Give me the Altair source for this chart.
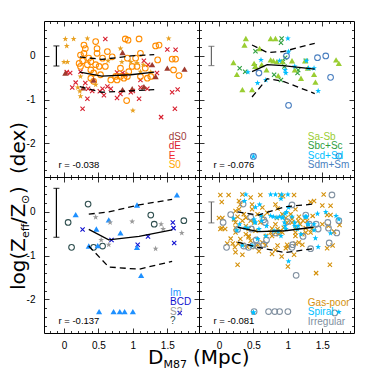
import altair as alt
import pandas as pd

XD = [-0.29, 1.96]
YD = [-2.77, 0.80]
W, H = 155, 156

STAR = ("M0,-1L0.235,-0.324L0.951,-0.309L0.38,0.124L0.588,0.809L0,0.4L-0.588,0.809"
        "L-0.38,0.124L-0.951,-0.309L-0.235,-0.324Z")
XMARK = "M-0.75,-0.75L0.75,0.75M-0.75,0.75L0.75,-0.75"
TRI = "triangle-up"

# ---------------- top-left: gas-poor morphologies ----------------
dS0_x = [0.02, 0.43, 0.85, 0.85, 0.99, 1.16, 1.33, 1.50, 1.75, 1.28, 0.28]
dS0_y = [-0.39, -0.55, 0.08, -0.77, -0.75, -0.70, -0.47, -0.28, -0.30, -0.20, -0.73]
dE_x = [0.60, 1.50, 1.62, 0.04, 0.09, 0.17, 0.12, 0.31, 0.34, 0.27, 0.41, 0.52, 0.58, 0.68,
        0.77, 0.82, 0.97, 1.00, 1.09, 1.11, 1.21, 1.11, 0.89, 0.77, 0.85, 1.16, 1.22, 1.35,
        1.57, 1.65, 1.61, 1.41, 0.63, 0.24, 0.35, 0.56]
dE_y = [0.39, 0.15, 0.14, -0.37, -0.39, -0.61, -0.72, -0.62, -0.98, -1.21, -0.80, -0.81, -0.90, -0.75,
        -0.96, -0.87, -0.83, -0.80, -0.98, -0.72, -0.75, -0.55, -0.43, -0.38, -0.39, -0.11, -0.20, -0.39,
        -0.83, -0.77, -1.21, -1.40, -0.70, -0.36, -0.75, -0.75]
E_x = [0.02, 0.14, 0.34, 0.04, 0.00, 0.05, 0.82, 0.84, 0.97, 1.06, 0.64, 1.52, 1.15, 1.26,
       0.24, 0.20, 0.23, 0.24, 0.46, 1.00, 1.11]
E_y = [0.39, 0.39, 0.40, 0.23, -0.14, -0.14, 0.17, -0.14, -0.14, -0.16, -0.11, 0.40, -0.20, -0.37,
       -0.47, -0.72, -0.81, -0.92, -0.66, -1.25, -0.36]
S0_x = [0.29, 0.31, 0.46, 0.48, 0.29, 0.36, 0.27, 0.22, 0.24, 0.34, 0.39, 0.51, 0.60, 0.39,
        0.43, 0.39, 0.53, 0.68, 0.77, 0.82, 0.92, 0.94, 0.99, 0.92, 1.04, 0.89, 0.93, 1.09,
        1.11, 1.06, 1.11, 1.18, 1.21, 1.26, 1.33, 1.38, 1.36, 1.57, 1.62, 1.59, 1.67, 0.91,
        0.43, 0.63, 0.70, 0.82, 0.87, 0.75, 0.46, 0.56, 0.48, 0.24]
S0_y = [0.25, 0.17, 0.33, 0.06, 0.06, -0.05, -0.11, -0.17, -0.24, -0.20, -0.13, -0.24, -0.24, -0.32,
        -0.39, -0.51, -0.43, -0.55, -0.55, -0.47, -0.47, -0.36, -0.24, -0.05, -0.05, 0.39, 0.36, 0.39,
        0.06, -0.24, -0.47, -0.28, -0.51, -0.47, 0.23, 0.25, -0.09, -0.07, -0.07, -0.32, -0.45, -1.02,
        -0.58, 0.10, -0.02, -0.28, -0.51, -0.47, -0.20, -0.05, 0.17, 0.02]

# ---------------- top-right: spirals ----------------
SaSb_x = [0.39, 0.37, 0.75, 0.82, 0.21, 0.26, 0.34, 0.48, 0.51, 0.53, 0.62, 0.69, 0.75, 0.79,
          0.84, 0.86, 1.06, 1.10, 1.19, 1.25, 1.29, 1.38, 1.40, 1.70, 1.74, 0.59, 0.92]
SaSb_y = [0.40, 0.25, 0.40, 0.40, -0.15, -0.42, -0.77, -0.77, -0.17, -0.24, -0.20, -0.32, -0.09, -0.11,
          -0.13, -0.45, -0.11, -0.32, -0.51, -0.11, -0.28, -0.42, -0.60, -0.09, -0.17, 0.17, -0.13]
SbcSc_x = [0.91, 0.90, 0.53, 0.30, 0.38, 0.80, 0.90, 0.93, 0.95, 0.96, 1.15, 1.14, 1.26, 0.52]
SbcSc_y = [0.40, 0.30, 0.11, -0.28, -0.36, -0.43, -0.55, -0.13, -0.24, -0.04, -0.32, -0.39, -0.11, -0.24]
ScdSd_x = [1.00, 0.61, 0.68, 0.56, 0.42, 0.88, 0.96, 0.97, 1.01, 1.10, 1.30, 1.38, 1.44, 1.27, 0.50]
ScdSd_y = [0.40, -0.09, -0.55, -0.62, -0.37, -0.11, -0.32, -0.39, 0.10, -0.24, -0.28, -0.28, -0.80, -0.11, -2.30]
SdmSm_x = [0.58, 0.98, 1.43, 1.55, 1.62, 1.01, 0.50, 1.74]
SdmSm_y = [-0.39, 0.00, -0.04, 0.00, -0.49, -1.13, -2.30, -2.29]

# ---------------- bottom-left: irregulars ----------------
Im_x = [0.17, 0.47, 0.65, 0.82, 1.06, 1.12, 1.64, 1.06, 0.51, 0.72, 0.81, 0.88, 1.00, 0.36, 0.49]
Im_y = [-0.06, -0.39, -0.18, -0.48, 0.16, -1.45, 0.39, -0.81, -2.28, -2.28, -2.28, -2.28, -2.28, -0.78, -0.77]
BCD_x = [0.27, 0.69, 1.07, 1.22, 1.58, 1.59, 1.60, 1.68]
BCD_y = [-0.40, -0.64, -0.75, -0.56, -0.24, -0.37, -0.71, -2.31]
Sq_x = [0.46, 0.54, 0.65, 0.67, 0.99, 1.33, 1.41, 1.44, 1.71]
Sq_y = [-0.12, -0.64, -0.75, -0.24, -0.22, -0.84, -0.28, -0.39, -0.48]
Q_x = [0.35, 0.06, 0.11, 0.43, 0.56, 1.26, 1.31, 1.74]
Q_y = [0.18, -0.24, -0.81, -0.81, -0.78, -0.07, -0.28, -0.20]

# ---------------- running medians and percentiles ----------------
TL_bx = [0.23, 0.55, 0.97, 1.31]
TL_med = [-0.37, -0.46, -0.43, -0.37]
TL_hi = [-0.02, -0.08, 0.00, 0.03]
TL_lo = [-0.70, -0.83, -0.80, -0.77]
TR_bx = [0.48, 0.70, 0.93, 1.39]
TR_med = [-0.36, -0.20, -0.22, -0.30]
TR_hi = [0.25, 0.08, 0.10, 0.29]
TR_lo = [-0.94, -0.52, -0.58, -0.86]
BL_bx = [0.36, 0.65, 1.09, 1.57]
BL_med = [-0.40, -0.64, -0.56, -0.41]
BL_hi = [-0.05, 0.00, 0.16, 0.29]
BL_lo = [-0.78, -1.26, -1.31, -1.13]
BR_bx = [0.27, 0.57, 0.96, 1.37]
BR_med = [-0.35, -0.45, -0.43, -0.35]
BR_hi = [0.00, -0.07, 0.12, 0.18]
BR_lo = [-0.69, -0.81, -0.93, -0.84]

# typical error bars (x, low, high)
ERR = {"TL": (-0.11, -0.23, 0.23), "TR": (-0.11, -0.22, 0.22),
       "BL": (-0.11, -0.58, 0.54), "BR": (-0.11, -0.25, 0.23)}
R_TEXT = {"TL": "r = -0.038", "TR": "r = -0.076", "BL": "r = -0.137", "BR": "r = -0.081"}

XT = [round(-0.2 + 0.1 * i, 2) for i in range(22)]
YT = [round(-2.6 + 0.2 * i, 2) for i in range(17)]
XMAJ = "abs(datum.value*2 - round(datum.value*2)) < 0.01"
YMAJ = "abs(datum.value - round(datum.value)) < 0.01"

xs = alt.Scale(domain=XD, nice=False, zero=False)
ys = alt.Scale(domain=YD, nice=False, zero=False)


def tick_axis(orient, values, test, off):
    return alt.Axis(orient=orient, offset=off, values=values, labels=False, domain=False,
                    grid=False, tickColor="black", tickWidth=0.8, title=None,
                    tickSize={"condition": {"test": test, "value": 5}, "value": 2.5})


def label_axis(orient, values, pad):
    return alt.Axis(orient=orient, values=values, ticks=False, domain=False, grid=False,
                    labelExpr="'' + datum.value", labelFont="Liberation Sans", labelFontSize=10,
                    labelColor="black", labelPadding=pad, labelFlush=False, labelOverlap=False,
                    title=None)


def make_df(groups):
    rows = []
    for cat, (gx, gy) in groups.items():
        for a, b in zip(gx, gy):
            rows.append({"x": a, "y": b, "cat": cat})
    return pd.DataFrame(rows)


def panel(key, groups, colors, shapes, filled, text_colors, bx, med, hi, lo, errcolor,
          left, bottom, legend_x, extra=None):
    cats = list(groups.keys())
    df = make_df(groups)
    cs = alt.Scale(domain=cats, range=colors)
    ss = alt.Scale(domain=cats, range=shapes)
    fcats = [c for c in cats if c in filled]
    ocats = [c for c in cats if c not in filled]

    open_pts = alt.Chart(df[df.cat.isin(ocats)]).mark_point(
        filled=False, opacity=1, size=32, strokeWidth=1.1).encode(
        x=alt.X("x:Q", scale=xs, axis=tick_axis("top", XT, XMAJ, -H)),
        y=alt.Y("y:Q", scale=ys, axis=tick_axis("right", YT, YMAJ, -W)),
        color=alt.Color("cat:N", scale=cs, legend=None),
        shape=alt.Shape("cat:N", scale=ss, legend=None))
    fill_pts = alt.Chart(df[df.cat.isin(fcats)]).mark_point(
        filled=True, opacity=1, size=38).encode(
        x=alt.X("x:Q", scale=xs, axis=tick_axis("bottom", XT, XMAJ, -H)),
        y=alt.Y("y:Q", scale=ys, axis=tick_axis("left", YT, YMAJ, -W)),
        color=alt.Color("cat:N", scale=cs, legend=None),
        shape=alt.Shape("cat:N", scale=ss, legend=None))

    ldf = pd.DataFrame({"x": bx * 3, "y": med + hi + lo,
                        "kind": ["med"] * len(bx) + ["hi"] * len(bx) + ["lo"] * len(bx)})
    med_line = alt.Chart(ldf[ldf.kind == "med"]).mark_line(color="black", strokeWidth=1.3).encode(
        x=alt.X("x:Q", scale=xs,
                axis=label_axis("bottom", [0, 0.5, 1, 1.5], 7) if bottom else None),
        y=alt.Y("y:Q", scale=ys,
                axis=label_axis("left", [-2, -1, 0], 9) if left else None))
    dash_line = alt.Chart(ldf[ldf.kind != "med"]).mark_line(
        color="black", strokeWidth=1.3, strokeDash=[6, 4]).encode(
        x=alt.X("x:Q", scale=xs, axis=None), y=alt.Y("y:Q", scale=ys, axis=None),
        detail="kind:N")

    ex, elo, ehi = ERR[key]
    edf = pd.DataFrame({"x": [ex], "lo": [elo], "hi": [ehi]})
    erule = alt.Chart(edf).mark_rule(color=errcolor, strokeWidth=1.2).encode(
        x=alt.X("x:Q", scale=xs, axis=None), y=alt.Y("lo:Q", scale=ys, axis=None), y2="hi:Q")
    cdf = pd.DataFrame({"x": [ex, ex], "y": [elo, ehi]})
    ecap = alt.Chart(cdf).mark_tick(color=errcolor, orient="horizontal", size=6, thickness=1.2).encode(
        x=alt.X("x:Q", scale=xs, axis=None), y=alt.Y("y:Q", scale=ys, axis=None))

    leg_y = [-1.86, -2.07, -2.28, -2.49] if len(cats) == 4 else [-2.09, -2.30, -2.51]
    tdf = pd.DataFrame({"x": [legend_x] * len(cats), "y": leg_y, "label": cats, "c": text_colors})
    legend = alt.Chart(tdf).mark_text(align="left", baseline="middle", fontSize=10,
                                      font="Liberation Sans").encode(
        x=alt.X("x:Q", scale=xs, axis=None), y=alt.Y("y:Q", scale=ys, axis=None),
        text="label:N", color=alt.Color("c:N", scale=None))
    rdf = pd.DataFrame({"x": [-0.08], "y": [-2.49], "label": [R_TEXT[key]]})
    rtxt = alt.Chart(rdf).mark_text(align="left", baseline="middle", fontSize=9.5,
                                    font="Liberation Sans", color="black").encode(
        x=alt.X("x:Q", scale=xs, axis=None), y=alt.Y("y:Q", scale=ys, axis=None), text="label:N")

    layers = [open_pts, fill_pts, med_line, dash_line, erule, ecap, legend, rtxt]
    if extra:
        layers += extra
    return alt.layer(*layers).resolve_axis(x="independent", y="independent").properties(
        width=W, height=H)


# ---------------- axis titles (drawn as text pieces so the subscripts survive) ----------------
FT, FS = 20, 11
ytitle = pd.DataFrame({
    "t": ["log(Z", "eff", "/Z", "\u2299", ")", "(dex)"],
    "px": [-19, -15, -19, -15, -19, -19],
    "py": [113, 61, 47, 27, 17, -3],
    "fs": [FT, FS, FT, FS, FT, FT]})
xtitle = pd.DataFrame({
    "t": ["D", "M87", "(Mpc)"],
    "px": [104, 119.5, 149],
    "py": [187, 191, 187],
    "fs": [FT, FS, FT]})
yt_layer = alt.Chart(ytitle).mark_text(align="left", baseline="alphabetic", angle=270,
                                       font="DejaVu Sans", color="black").encode(
    x=alt.X("px:Q", scale=None), y=alt.Y("py:Q", scale=None), text="t:N",
    size=alt.Size("fs:Q", scale=None))
xt_layer = alt.Chart(xtitle).mark_text(align="left", baseline="alphabetic",
                                       font="DejaVu Sans", color="black").encode(
    x=alt.X("px:Q", scale=None), y=alt.Y("py:Q", scale=None), text="t:N",
    size=alt.Size("fs:Q", scale=None))

tl = panel("TL", {"dS0": (dS0_x, dS0_y), "dE": (dE_x, dE_y), "E": (E_x, E_y), "S0": (S0_x, S0_y)},
           ["#9e3a2e", "#d8202f", "#e8a020", "#ff8c00"], [TRI, XMARK, STAR, "circle"],
           ["dS0", "E"], ["#9e3a3a", "#d8202f", "#f02828", "#ffa500"],
           TL_bx, TL_med, TL_hi, TL_lo, "black", True, False, 1.52)
tr = panel("TR", {"Sa-Sb": (SaSb_x, SaSb_y), "Sbc+Sc": (SbcSc_x, SbcSc_y),
                  "Scd+Sd": (ScdSd_x, ScdSd_y), "Sdm+Sm": (SdmSm_x, SdmSm_y)},
           ["#9acd32", "#2e9e3e", "#00bfff", "#4a7fc0"], [TRI, XMARK, STAR, "circle"],
           ["Sa-Sb", "Scd+Sd"], ["#9acd32", "#2e9e3e", "#00bfff", "#4a7fc0"],
           TR_bx, TR_med, TR_hi, TR_lo, "#666666", False, False, 1.29)
bl = panel("BL", {"Im": (Im_x, Im_y), "BCD": (BCD_x, BCD_y), "S?": (Sq_x, Sq_y), "?": (Q_x, Q_y)},
           ["#1e90ff", "#1010d0", "#999999", "#2f4f4f"], [TRI, XMARK, STAR, "circle"],
           ["Im", "S?"], ["#1e90ff", "#1010d0", "#999999", "#2f4f4f"],
           BL_bx, BL_med, BL_hi, BL_lo, "black", True, True, 1.54, extra=[yt_layer, xt_layer])
gas_x = dS0_x + dE_x + E_x + S0_x
gas_y = dS0_y + dE_y + E_y + S0_y
sp_x = SaSb_x + SbcSc_x + ScdSd_x + SdmSm_x
sp_y = SaSb_y + SbcSc_y + ScdSd_y + SdmSm_y
irr_x = Im_x + BCD_x + Sq_x + Q_x
irr_y = Im_y + BCD_y + Sq_y + Q_y
br = panel("BR", {"Gas-poor": (gas_x, gas_y), "Spiral": (sp_x, sp_y), "Irregular": (irr_x, irr_y)},
           ["#d4900a", "#00bfff", "#8090a0"], [XMARK, STAR, "circle"],
           ["Spiral"], ["#d4900a", "#00bfff", "#8090a0"],
           BR_bx, BR_med, BR_hi, BR_lo, "#666666", False, True, 1.29)

chart = alt.concat(tl, tr, bl, br, columns=2, spacing=0, bounds="flush").resolve_scale(
    color="independent", shape="independent").properties(
    padding={"top": 12, "left": 0, "right": 0, "bottom": 0}).configure_view(
    stroke="black", strokeWidth=1)

chart.save("out.html", embed_options={"renderer": "svg", "actions": False})
